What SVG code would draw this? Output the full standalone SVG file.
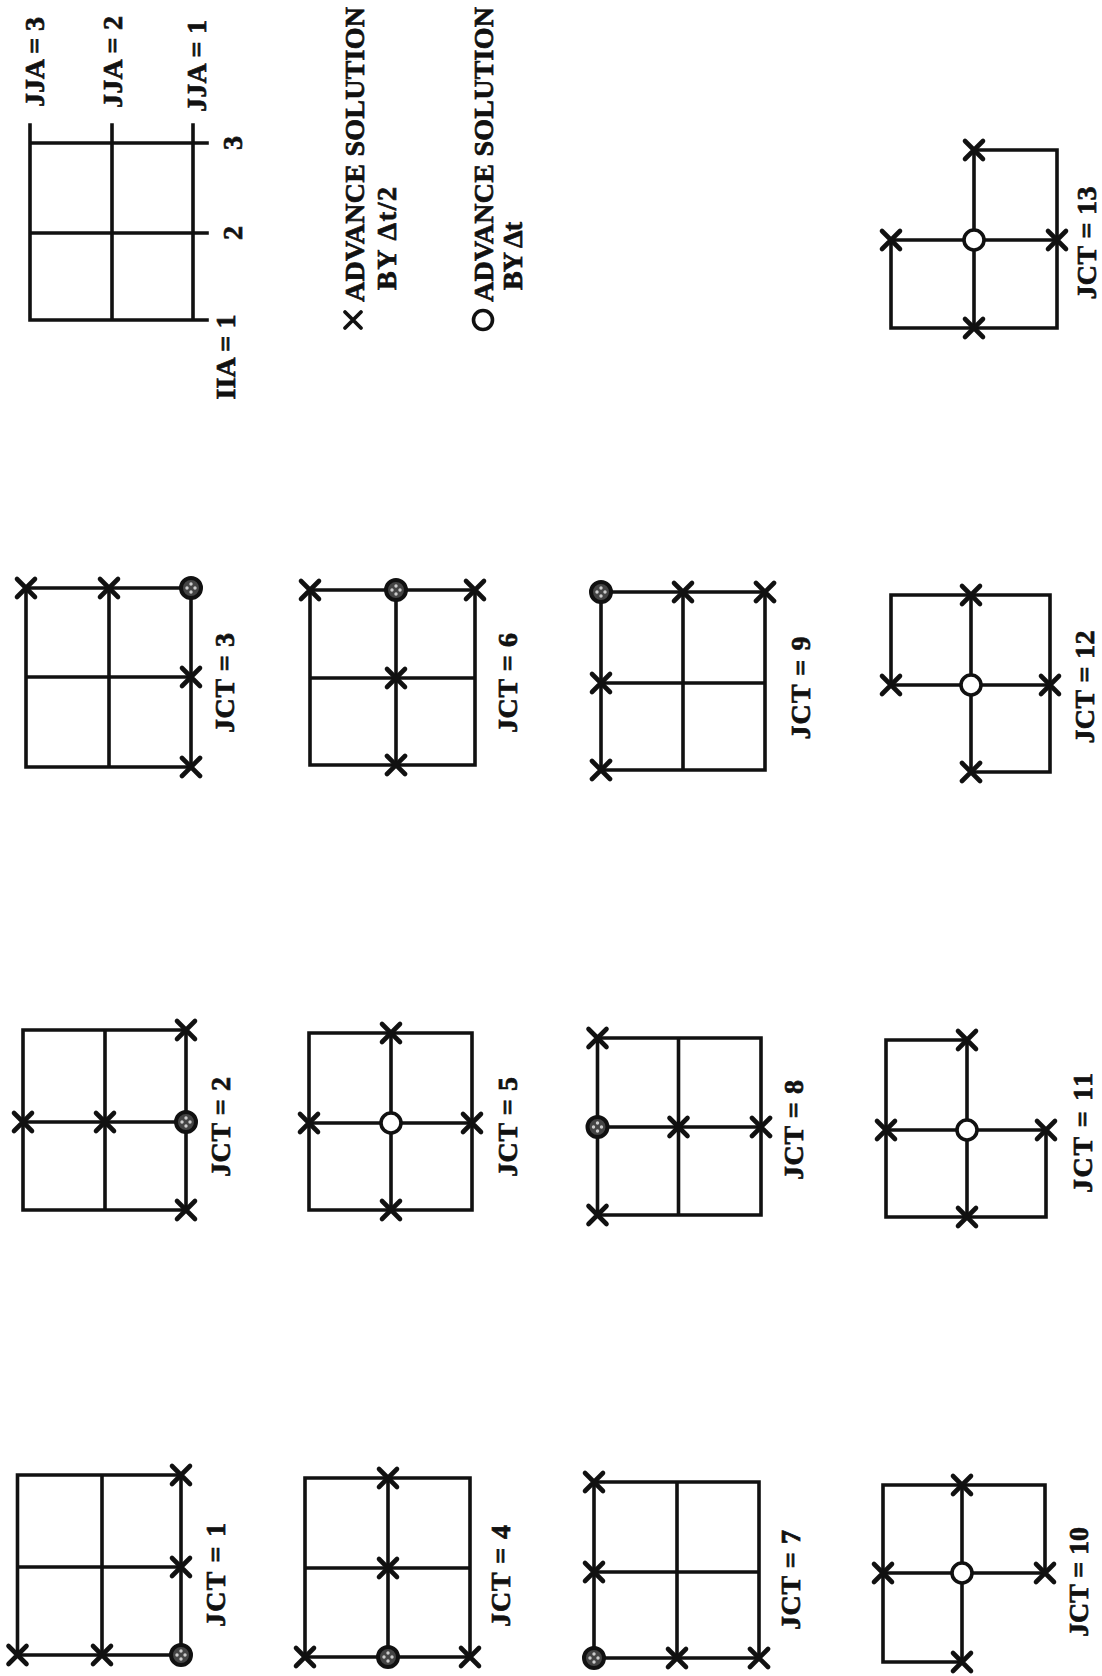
<svg xmlns="http://www.w3.org/2000/svg" xmlns:xlink="http://www.w3.org/1999/xlink" width="1102" height="1676" viewBox="0 0 1102 1676">
<style>
.g{fill:none;stroke:#111;stroke-width:3.6;stroke-linejoin:miter;stroke-linecap:square}
.t{font-family:"Liberation Serif","DejaVu Serif",serif;font-weight:bold;font-size:28px;fill:#111;stroke:#111;stroke-width:0.7}
</style>
<defs>
<g id="mx"><path d="M-9,-9L9,9M-9,9L9,-9" stroke="#111" stroke-width="4.6" stroke-linecap="round"/></g>
<g id="mo"><circle r="10" fill="#fff" stroke="#111" stroke-width="3.6"/></g>
<g id="mq"><circle r="10" fill="#444" stroke="#111" stroke-width="4"/><circle cx="0" cy="-4" r="1.7" fill="#ccc"/><circle cx="0" cy="4" r="1.7" fill="#ccc"/><circle cx="-4" cy="0" r="1.7" fill="#ccc"/><circle cx="4" cy="0" r="1.7" fill="#ccc"/></g>
</defs>
<rect width="1102" height="1676" fill="#fff"/>

<g id="legend">
<path class="g" stroke-width="3.8" d="M30,125V320M112,125V320M193,125V320M30,143H207M30,233H207M30,320H207"/>
<text class="t" transform="translate(44,62) rotate(-90)" text-anchor="middle" textLength="90">JJA = 3</text>
<text class="t" transform="translate(122,62) rotate(-90)" text-anchor="middle" textLength="92">JJA = 2</text>
<text class="t" transform="translate(206,66) rotate(-90)" text-anchor="middle" textLength="92">JJA = 1</text>
<text class="t" transform="translate(242,143) rotate(-90)" text-anchor="middle">3</text>
<text class="t" transform="translate(242,233) rotate(-90)" text-anchor="middle">2</text>
<text class="t" transform="translate(235,357) rotate(-90)" text-anchor="middle" textLength="85">IIA = 1</text>
<path d="M345,312L361,328M345,328L361,312" stroke="#111" stroke-width="3.8" stroke-linecap="round"/>
<text class="t" transform="translate(364,302) rotate(-90)" textLength="295">ADVANCE SOLUTION</text>
<text class="t" transform="translate(396,290) rotate(-90)" textLength="103">BY Δt/2</text>
<circle cx="483" cy="320" r="9.5" fill="none" stroke="#111" stroke-width="3.6"/>
<text class="t" transform="translate(493,302) rotate(-90)" textLength="295">ADVANCE SOLUTION</text>
<text class="t" transform="translate(522,290) rotate(-90)" textLength="68">BY Δt</text>
</g>

<g id="connectors">
<path id="l1" class="g" d="M17.5,1475H181V1655H17.5ZM102,1475V1655M17.5,1567H181"/>
<path id="l4" class="g" d="M305,1478H470V1657H305ZM388,1478V1657M305,1568H470"/>
<path id="l7" class="g" d="M594,1482H759V1658H594ZM677,1482V1658M594,1572H759"/>
<path id="l10" class="g" d="M883,1662V1485H1045V1573H883M962,1485V1662M883,1662H962"/>
<path id="l2" class="g" d="M23,1030H186V1210H23ZM105,1030V1210M23,1122H186"/>
<path id="l5" class="g" d="M309,1033H472V1210H309ZM391,1033V1210M309,1123H472"/>
<path id="l8" class="g" d="M597.5,1038H761V1215H597.5ZM678.5,1038V1215M597.5,1127H761"/>
<path id="l11" class="g" d="M967,1040H886V1217H1046V1130H886M967,1040V1217"/>
<path id="l3" class="g" d="M26,588H191V767H26ZM109,588V767M26,677H191"/>
<path id="l6" class="g" d="M310,590H475V765H310ZM396,590V765M310,678H475"/>
<path id="l9" class="g" d="M601,592H765V770H601ZM683,592V770M601,683H765"/>
<path id="l12" class="g" d="M891,685V595H1050V772H971M891,685H1050M971,595V772"/>
<path id="l13" class="g" d="M974,150H1057V328H891V240H1057M974,150V328"/>
</g>

<g id="jct1">
<use xlink:href="#mx" x="181" y="1475"/><use xlink:href="#mx" x="181" y="1567"/><use xlink:href="#mq" x="181" y="1655"/><use xlink:href="#mx" x="102" y="1655"/><use xlink:href="#mx" x="17.5" y="1655"/>
<text class="t" transform="translate(225,1575) rotate(-90)" text-anchor="middle" textLength="104">JCT = 1</text>
</g>
<g id="jct4">
<use xlink:href="#mx" x="388" y="1478"/><use xlink:href="#mx" x="388" y="1568"/><use xlink:href="#mx" x="305" y="1657"/><use xlink:href="#mq" x="388" y="1657"/><use xlink:href="#mx" x="470" y="1657"/>
<text class="t" transform="translate(510,1576) rotate(-90)" text-anchor="middle" textLength="102">JCT = 4</text>
</g>
<g id="jct7">
<use xlink:href="#mx" x="594" y="1482"/><use xlink:href="#mx" x="594" y="1572"/><use xlink:href="#mq" x="594" y="1658"/><use xlink:href="#mx" x="677" y="1658"/><use xlink:href="#mx" x="759" y="1658"/>
<text class="t" transform="translate(800,1580) rotate(-90)" text-anchor="middle" textLength="100">JCT = 7</text>
</g>
<g id="jct10">
<use xlink:href="#mx" x="962" y="1485"/><use xlink:href="#mx" x="883" y="1573"/><use xlink:href="#mo" x="962" y="1573"/><use xlink:href="#mx" x="1045" y="1573"/><use xlink:href="#mx" x="962" y="1662"/>
<text class="t" transform="translate(1088,1582) rotate(-90)" text-anchor="middle" textLength="110">JCT = 10</text>
</g>
<g id="jct2">
<use xlink:href="#mx" x="186" y="1030"/><use xlink:href="#mx" x="23" y="1122"/><use xlink:href="#mx" x="105" y="1122"/><use xlink:href="#mq" x="186" y="1122"/><use xlink:href="#mx" x="186" y="1210"/>
<text class="t" transform="translate(230,1127) rotate(-90)" text-anchor="middle" textLength="100">JCT = 2</text>
</g>
<g id="jct5">
<use xlink:href="#mx" x="391" y="1033"/><use xlink:href="#mx" x="309" y="1123"/><use xlink:href="#mo" x="391" y="1123"/><use xlink:href="#mx" x="472" y="1123"/><use xlink:href="#mx" x="391" y="1210"/>
<text class="t" transform="translate(517,1127) rotate(-90)" text-anchor="middle" textLength="100">JCT = 5</text>
</g>
<g id="jct8">
<use xlink:href="#mx" x="597.5" y="1038"/><use xlink:href="#mq" x="597.5" y="1127"/><use xlink:href="#mx" x="678.5" y="1127"/><use xlink:href="#mx" x="761" y="1127"/><use xlink:href="#mx" x="597.5" y="1215"/>
<text class="t" transform="translate(803,1130) rotate(-90)" text-anchor="middle" textLength="100">JCT = 8</text>
</g>
<g id="jct11">
<use xlink:href="#mx" x="967" y="1040"/><use xlink:href="#mx" x="886" y="1130"/><use xlink:href="#mo" x="967" y="1130"/><use xlink:href="#mx" x="1046" y="1130"/><use xlink:href="#mx" x="967" y="1217"/>
<text class="t" transform="translate(1092,1133) rotate(-90)" text-anchor="middle" textLength="120">JCT = 11</text>
</g>
<g id="jct3">
<use xlink:href="#mx" x="26" y="588"/><use xlink:href="#mx" x="109" y="588"/><use xlink:href="#mq" x="191" y="588"/><use xlink:href="#mx" x="191" y="677"/><use xlink:href="#mx" x="191" y="767"/>
<text class="t" transform="translate(234,683) rotate(-90)" text-anchor="middle" textLength="100">JCT = 3</text>
</g>
<g id="jct6">
<use xlink:href="#mx" x="310" y="590"/><use xlink:href="#mq" x="396" y="590"/><use xlink:href="#mx" x="475" y="590"/><use xlink:href="#mx" x="396" y="678"/><use xlink:href="#mx" x="396" y="765"/>
<text class="t" transform="translate(517,683) rotate(-90)" text-anchor="middle" textLength="100">JCT = 6</text>
</g>
<g id="jct9">
<use xlink:href="#mq" x="601" y="592"/><use xlink:href="#mx" x="683" y="592"/><use xlink:href="#mx" x="765" y="592"/><use xlink:href="#mx" x="601" y="683"/><use xlink:href="#mx" x="601" y="770"/>
<text class="t" transform="translate(810,688) rotate(-90)" text-anchor="middle" textLength="103">JCT = 9</text>
</g>
<g id="jct12">
<use xlink:href="#mx" x="971" y="595"/><use xlink:href="#mx" x="891" y="685"/><use xlink:href="#mo" x="971" y="685"/><use xlink:href="#mx" x="1050" y="685"/><use xlink:href="#mx" x="971" y="772"/>
<text class="t" transform="translate(1094,687) rotate(-90)" text-anchor="middle" textLength="113">JCT = 12</text>
</g>
<g id="jct13">
<use xlink:href="#mx" x="974" y="150"/><use xlink:href="#mx" x="891" y="240"/><use xlink:href="#mo" x="974" y="240"/><use xlink:href="#mx" x="1057" y="240"/><use xlink:href="#mx" x="974" y="328"/>
<text class="t" transform="translate(1096,243) rotate(-90)" text-anchor="middle" textLength="113">JCT = 13</text>
</g>
</svg>
